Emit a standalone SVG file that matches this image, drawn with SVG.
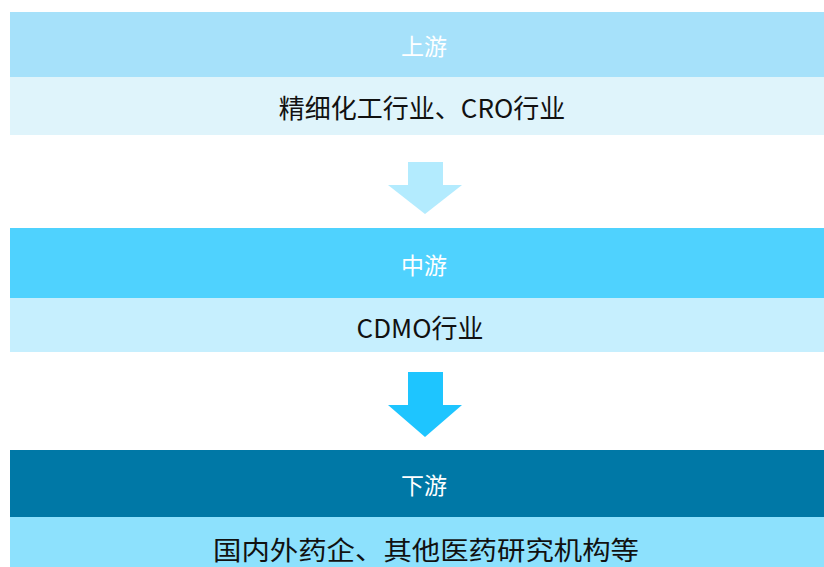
<svg xmlns="http://www.w3.org/2000/svg" width="824" height="567" viewBox="0 0 824 567">
<style>
.hd{font-family:"Noto Sans CJK SC","Noto Sans",sans-serif;font-size:23px;fill:#ffffff;text-anchor:middle;dominant-baseline:central}
.ct{font-family:"Noto Sans CJK SC","Noto Sans",sans-serif;font-size:26px;fill:#111111;text-anchor:middle;dominant-baseline:central}
</style>
<rect width="824" height="567" fill="#ffffff"/>
<g id="upstream">
<rect x="10" y="12" width="814" height="65" fill="#a6e1fa"/>
<rect x="10" y="77" width="814" height="58" fill="#dff4fb"/>
<text class="hd" x="424" y="45">上游</text>
<text class="ct" x="422" y="106">精细化工行业、CRO行业</text>
</g>
<g id="midstream">
<rect x="10" y="228" width="814" height="70" fill="#4fd2fe"/>
<rect x="10" y="298" width="814" height="54" fill="#c6effe"/>
<text class="hd" x="424" y="264">中游</text>
<text class="ct" x="420" y="326">CDMO行业</text>
</g>
<g id="downstream">
<rect x="10" y="450" width="814" height="67" fill="#0078a6"/>
<rect x="10" y="517" width="814" height="50" fill="#8de1fd"/>
<text class="hd" x="424" y="484">下游</text>
<text class="ct" x="426" y="548" textLength="426" lengthAdjust="spacingAndGlyphs">国内外药企、其他医药研究机构等</text>
</g>
<g id="connectors">
<polygon points="408,162 443,162 443,185 462,185 425,214 388,185 408,185" fill="#b3ebfe"/>
<polygon points="408,372 443,372 443,405 462,405 425,437 388,405 408,405" fill="#1ec5ff"/>
</g>
</svg>
